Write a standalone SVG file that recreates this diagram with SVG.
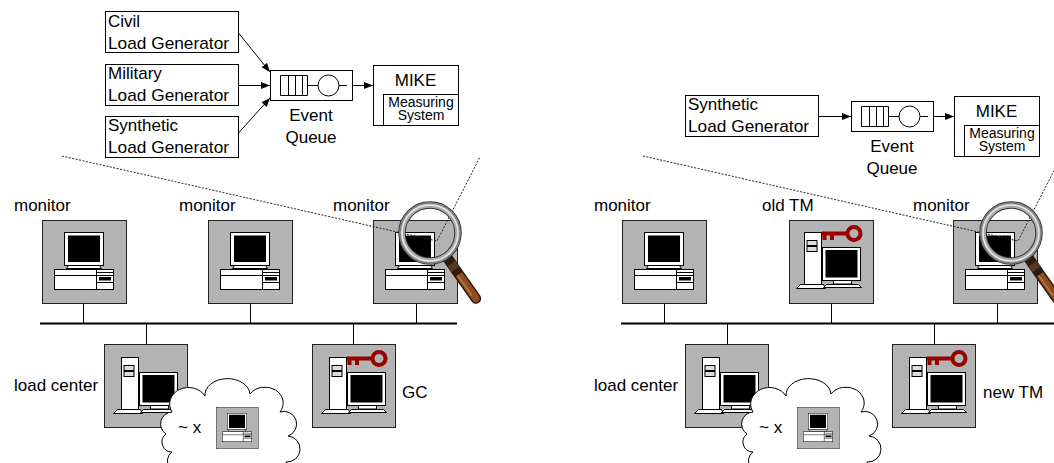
<svg xmlns="http://www.w3.org/2000/svg" width="1054" height="463" viewBox="0 0 1054 463">
  <style>
    .t { font-family: "Liberation Sans", Arial, sans-serif; font-size: 17px; fill: #000; }
    .ts { font-size: 14px; }
    .box { fill: #fff; stroke: #000; stroke-width: 1; }
    .pc { fill: #b3b3b3; stroke: #222; stroke-width: 1; }
    .w { fill: #fff; stroke: #000; stroke-width: 1; }
    .ln { fill: none; stroke: #000; stroke-width: 1; }
    .link { fill: none; stroke: #000; stroke-width: 1; }
    .bus { fill: none; stroke: #000; stroke-width: 2; }
    .dot { fill: none; stroke: #222; stroke-width: 1; stroke-dasharray: 2 1.5; }
    .cloud { fill: #fff; stroke: #000; stroke-width: 1; }
  </style>
  <defs>
    <marker id="arrow" markerUnits="userSpaceOnUse" markerWidth="9" markerHeight="7" refX="9" refY="3.5" orient="auto">
      <path d="M0,0 L9,3.5 L0,7 Z" fill="#000"/>
    </marker>
    <!-- desktop workstation: monitor on a flat case (box-relative, 84x83) -->
    <g id="desk">
      <rect class="w" x="22.5" y="12.5" width="39" height="33"/>
      <rect x="26" y="15.5" width="32" height="26.5" fill="#000"/>
      <path class="w" d="M26.5,45.5 H57.5 L59.5,48.5 H24.5 Z"/>
      <rect class="w" x="12.5" y="49.5" width="59" height="20"/>
      <path class="ln" d="M54.5,49.5 V69.5 M12.5,55.5 H54.5 M54.5,52.5 H71.5 M54.5,55.5 H71.5 M54.5,62.5 H71.5"/>
      <rect x="57" y="57" width="12" height="3.5" fill="#000"/>
    </g>
    <!-- tower server with separate monitor -->
    <g id="tower">
      <path class="w" d="M13.5,65.5 H36.5 L38.5,69.5 H9.5 Z"/>
      <rect class="w" x="17.5" y="13.5" width="17" height="52"/>
      <rect x="20" y="21.5" width="10" height="5" fill="#ddd" stroke="#000"/>
      <rect x="20" y="27.5" width="10" height="5" fill="#ddd" stroke="#000"/>
      <rect class="w" x="46.5" y="61.5" width="18" height="3.5"/>
      <path class="w" d="M39.5,65.5 H71.5 L74.5,68.5 H36.5 Z"/>
      <rect class="w" x="35.5" y="28.5" width="38" height="33"/>
      <rect x="38.5" y="31" width="32" height="27.5" fill="#000"/>
    </g>
    <!-- access key -->
    <g id="key" fill="#990000">
      <rect x="35" y="12.5" width="25" height="4"/>
      <rect x="35.5" y="16" width="4" height="5"/>
      <rect x="43" y="16" width="4" height="5"/>
      <circle cx="67" cy="14.5" r="6.5" fill="none" stroke="#990000" stroke-width="4"/>
    </g>
    <!-- event queue symbol -->
    <g id="queue">
      <rect class="box" x="0.5" y="0.5" width="82" height="30"/>
      <path class="ln" d="M10.5,5.5 H37.5 M10.5,25.5 H37.5 M10.5,5.5 V25.5 M18.5,5.5 V25.5 M25.5,5.5 V25.5 M32.5,5.5 V25.5 M37.5,5.5 V25.5 M37.5,15.5 H48"/>
      <circle class="ln" cx="58.5" cy="15.5" r="10.5"/>
      <path class="ln" d="M69,15.5 H77"/>
      <text class="t" x="41" y="51" text-anchor="middle">Event</text>
      <text class="t" x="41" y="73" text-anchor="middle">Queue</text>
    </g>
    <!-- measuring system box -->
    <g id="mikebox">
      <rect class="box" x="0.5" y="0.5" width="85" height="60"/>
      <rect class="box" x="10.5" y="29.5" width="75" height="31"/>
      <text class="t" x="42.5" y="21" text-anchor="middle">MIKE</text>
      <text class="t ts" x="48" y="42" text-anchor="middle">Measuring</text>
      <text class="t ts" x="48" y="55" text-anchor="middle">System</text>
    </g>
    <!-- magnifying glass, centred on the lens -->
    <g id="lens">
      <line x1="17.8" y1="25.4" x2="45.9" y2="65.5" stroke="#2e1607" stroke-width="10.5" stroke-linecap="round"/>
      <line x1="17.8" y1="25.4" x2="45.9" y2="65.5" stroke="#8e4c1f" stroke-width="7.5" stroke-linecap="round"/>
      <line x1="19" y1="27" x2="43" y2="61" stroke="#b8773f" stroke-width="1.5" stroke-linecap="round" transform="translate(-1.5,1)"/>
      <line x1="17.8" y1="25.4" x2="29" y2="41.4" stroke="#2b1a0e" stroke-width="9.5"/>
      <line x1="21.5" y1="30.6" x2="25.5" y2="36.3" stroke="#5a3a22" stroke-width="9"/>
      <circle r="28" fill="none" stroke="#333" stroke-width="7.5"/>
      <circle r="28" fill="none" stroke="#a9a9a9" stroke-width="5.5"/>
      <circle r="28" fill="none" stroke="#e6e6e6" stroke-width="1.5"/>
      <circle r="30" fill="none" stroke="#666" stroke-width="0.8"/>
    </g>
    <path id="cloudshape" class="cloud" d="M185,470 A11,11 0 0 1 172,452 A10,10 0 0 1 166,434 A12,12 0 0 1 172,412 A16,14 0 0 1 205,396 A22,16 0 0 1 250,394 A16,14 0 0 1 280,412 A12,12 0 0 1 288,436 A12,12 0 0 1 286,462 A12,12 0 0 1 270,478 L195,480 Z"/>
  </defs>

  <!-- ===== left configuration ===== -->
  <g id="civil-load-generator">
    <rect class="box" x="105.5" y="11.5" width="133" height="41"/>
    <text class="t" x="108" y="27">Civil</text>
    <text class="t" x="108" y="49" textLength="121" lengthAdjust="spacingAndGlyphs">Load Generator</text>
  </g>
  <g id="military-load-generator">
    <rect class="box" x="105.5" y="64.5" width="133" height="41"/>
    <text class="t" x="108" y="79">Military</text>
    <text class="t" x="108" y="101" textLength="121" lengthAdjust="spacingAndGlyphs">Load Generator</text>
  </g>
  <g id="synthetic-load-generator-a">
    <rect class="box" x="105.5" y="116.5" width="133" height="41"/>
    <text class="t" x="108" y="131">Synthetic</text>
    <text class="t" x="108" y="153" textLength="121" lengthAdjust="spacingAndGlyphs">Load Generator</text>
  </g>
  <g id="event-queue-a" transform="translate(270,70)"><use href="#queue"/></g>
  <g id="mike-a" transform="translate(373,65)"><use href="#mikebox"/></g>

  <g id="monitor-a1">
    <rect class="pc" x="42.5" y="220.5" width="84" height="83"/>
    <use href="#desk" x="42" y="220"/>
    <text class="t" x="14" y="211">monitor</text>
  </g>
  <g id="monitor-a2">
    <rect class="pc" x="208.5" y="220.5" width="84" height="83"/>
    <use href="#desk" x="208" y="220"/>
    <text class="t" x="179" y="211">monitor</text>
  </g>
  <g id="monitor-a3">
    <rect class="pc" x="373.5" y="220.5" width="84" height="83"/>
    <use href="#desk" x="373" y="220"/>
    <text class="t" x="333" y="211">monitor</text>
  </g>
  <g id="load-center-a">
    <rect class="pc" x="104.5" y="344.5" width="83" height="83"/>
    <use href="#tower" x="104" y="344"/>
    <text class="t" x="14" y="391">load center</text>
  </g>
  <g id="gc">
    <rect class="pc" x="312.5" y="344.5" width="83" height="83"/>
    <use href="#tower" x="312" y="344"/>
    <use href="#key" x="312" y="344"/>
    <text class="t" x="402" y="398">GC</text>
  </g>
  <g id="remote-a">
    <use href="#cloudshape"/>
    <text class="t" x="178" y="433">~ x</text>
    <g transform="translate(216,407) scale(0.5)">
      <rect class="pc" x="0.5" y="0.5" width="84" height="83" stroke-width="2"/>
      <use href="#desk"/>
    </g>
  </g>

  <!-- ===== right configuration ===== -->
  <g id="synthetic-load-generator-b">
    <rect class="box" x="685.5" y="95.5" width="133" height="41"/>
    <text class="t" x="688" y="110">Synthetic</text>
    <text class="t" x="688" y="132" textLength="121" lengthAdjust="spacingAndGlyphs">Load Generator</text>
  </g>
  <g id="event-queue-b" transform="translate(851,101)"><use href="#queue"/></g>
  <g id="mike-b" transform="translate(954,96)"><use href="#mikebox"/></g>

  <g id="monitor-b1">
    <rect class="pc" x="622.5" y="220.5" width="84" height="83"/>
    <use href="#desk" x="622" y="220"/>
    <text class="t" x="594" y="211">monitor</text>
  </g>
  <g id="old-tm">
    <rect class="pc" x="789.5" y="220.5" width="84" height="83"/>
    <use href="#tower" x="787" y="219"/>
    <use href="#key" x="787" y="219"/>
    <text class="t" x="762" y="211">old TM</text>
  </g>
  <g id="monitor-b3">
    <rect class="pc" x="953.5" y="220.5" width="84" height="83"/>
    <use href="#desk" x="953" y="220"/>
    <text class="t" x="913" y="211">monitor</text>
  </g>
  <g id="load-center-b">
    <rect class="pc" x="685.5" y="344.5" width="83" height="83"/>
    <use href="#tower" x="685" y="344"/>
    <text class="t" x="594" y="391">load center</text>
  </g>
  <g id="new-tm">
    <rect class="pc" x="892.5" y="344.5" width="83" height="83"/>
    <use href="#tower" x="892" y="344"/>
    <use href="#key" x="892" y="344"/>
    <text class="t" x="983" y="398">new TM</text>
  </g>
  <g id="remote-b" transform="translate(581,0)">
    <use href="#cloudshape"/>
    <text class="t" x="178" y="433">~ x</text>
    <g transform="translate(216,407) scale(0.5)">
      <rect class="pc" x="0.5" y="0.5" width="84" height="83" stroke-width="2"/>
      <use href="#desk"/>
    </g>
  </g>

  <!-- ===== connectors ===== -->
  <g id="connectors">
    <path class="link" d="M238.5,33 L270,72" marker-end="url(#arrow)"/>
    <path class="link" d="M238.5,85.5 L270,85.5" marker-end="url(#arrow)"/>
    <path class="link" d="M238.5,133 L270,98" marker-end="url(#arrow)"/>
    <path class="link" d="M353,85.5 L373,85.5" marker-end="url(#arrow)"/>
    <path class="link" d="M818.5,116.5 L851,116.5" marker-end="url(#arrow)"/>
    <path class="link" d="M934,116.5 L954,116.5" marker-end="url(#arrow)"/>

    <path class="bus" d="M40,323.5 H457"/>
    <path class="link" d="M83.5,303.5 V323 M250.5,303.5 V323 M416.5,303.5 V323 M146.5,323 V344.5 M353.5,323 V344.5"/>

    <path class="bus" d="M621,323.5 H1054"/>
    <path class="link" d="M664.5,303.5 V323 M831.5,303.5 V323 M997.5,303.5 V323 M727.5,323 V344.5 M934.5,323 V344.5"/>
  </g>

  <!-- zoom-in lines towards the observed monitor -->
  <g id="zoom-lines">
    <path class="dot" d="M62,156 L437,241 L480,157"/>
    <path class="dot" d="M643,156 L1018,241 L1061,157"/>
  </g>

  <g id="magnifier-a" transform="translate(430,233)"><use href="#lens"/></g>
  <g id="magnifier-b" transform="translate(1011,233)"><use href="#lens"/></g>
</svg>
